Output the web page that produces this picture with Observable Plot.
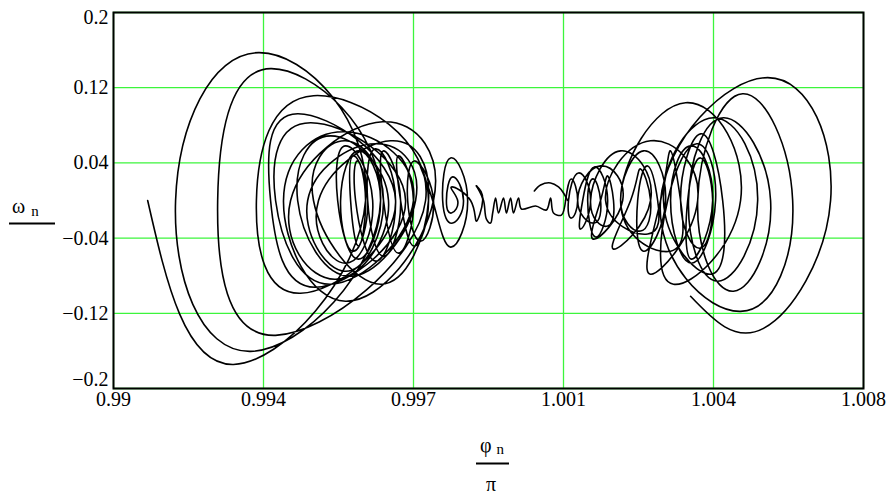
<!DOCTYPE html>
<html><head><meta charset="utf-8">
<script src="https://cdn.jsdelivr.net/npm/d3@7"></script>
<script src="https://cdn.jsdelivr.net/npm/@observablehq/plot@0.6"></script>
<style>
body{margin:0;background:#fff}
#chart{position:relative;width:894px;height:497px}
</style>
</head><body><div id="chart"></div>
<script>
// Axis ticks (phi/pi and omega) and their printed labels
const xTicks = [0.99, 0.9936, 0.9972, 1.0008, 1.0044, 1.008];
const xTickLabels = ["0.99", "0.994", "0.997", "1.001", "1.004", "1.008"];
const yTicks = [0.2, 0.12, 0.04, -0.04, -0.12, -0.2];
const yTickLabels = ["0.2", "0.12", "0.04", "\u22120.04", "\u22120.12", "\u22120.2"];

// Left cluster of loops (outer -> inner): left crossing, bottom, right crossing, top
const leftL = [0.99082, 0.99149, 0.9925, 0.99343, 0.99377, 0.99389, 0.99408, 0.99425, 0.99442, 0.99466, 0.9948, 0.99492, 0.99538, 0.99545, 0.99569, 0.99581, 0.9961, 0.99648, 0.99689, 0.99706, 0.99766, 0.9979, 0.99799, 0.99857];
const leftBottomPhi = [0.99288, 0.99329, 0.99389, 0.99449, 0.99485, 0.99521, 0.99557, 0.99533, 0.99569, 0.99557, 0.99641, 0.99557, 0.99588, 0.99576, 0.99588, 0.99629, 0.99648, 0.99684, 0.99722, 0.99737, 0.99809, 0.99814, 0.99811, 0.99871];
const leftBottom = [-0.1744, -0.1605, -0.1435, -0.0987, -0.0923, -0.0891, -0.1072, -0.0837, -0.0805, -0.0752, -0.0891, -0.0667, -0.0624, -0.0539, -0.0485, -0.0645, -0.0592, -0.056, -0.0485, -0.0432, -0.0496, -0.024, -0.0133, -0.0219];
const leftR = [0.99605, 0.99641, 0.99749, 0.99677, 0.99701, 0.9972, 0.99768, 0.9966, 0.99725, 0.99648, 0.99756, 0.99622, 0.99641, 0.9961, 0.99605, 0.99677, 0.99689, 0.9972, 0.99756, 0.99768, 0.9985, 0.9984, 0.99826, 0.99886];
const leftTopPhi = [0.99348, 0.99377, 0.9948, 0.99442, 0.99473, 0.99557, 0.99646, 0.99521, 0.99629, 0.99557, 0.99665, 0.99557, 0.99588, 0.99576, 0.99586, 0.99629, 0.99648, 0.99684, 0.99722, 0.99737, 0.99809, 0.99814, 0.99811, 0.99871];
const leftTop = [0.1573, 0.1403, 0.1115, 0.0923, 0.0827, 0.0731, 0.0837, 0.0688, 0.0603, 0.0635, 0.0635, 0.0581, 0.0528, 0.0475, 0.0421, 0.0549, 0.0528, 0.0475, 0.0421, 0.0368, 0.0453, 0.0251, 0.0144, 0.0155];

// Middle wiggles and the short hump above them
const midPhi = [0.99871, 0.99888, 0.99895, 0.99905, 0.9991, 0.99917, 0.99924, 0.99936, 0.99943, 0.99953, 0.9996, 0.99972, 0.99979, 1.00013, 1.00039, 1.00049, 1.00056, 1.00075, 1.00085];
const midOmega = [0.0155, 0, -0.0197, -0.024, -0.0133, 0.0027, -0.0133, 0.0027, -0.0133, 0.0027, -0.0133, 0.0027, -0.0091, -0.0059, -0.0101, 0.0027, -0.0133, -0.0155, 0];
const humpPhi = [1.0001, 1.00025, 1.00049, 1.00068, 1.0008, 1.0009];
const humpOmega = [0.0101, 0.0165, 0.0187, 0.0144, 0.008, 0];

// Right cluster of loops (inner -> outer): left crossing, top, right crossing, bottom
const rightL = [1.00085, 1.00092, 1.00126, 1.00138, 1.00114, 1.00169, 1.00145, 1.00241, 1.00217, 1.00258, 1.00181, 1.00313, 1.00217, 1.0033, 1.00337, 1.00378, 1.00361, 1.0032, 1.0038, 1.00402, 1.00313];
const rightTopPhi = [1.00099, 1.00116, 1.00154, 1.00152, 1.00169, 1.00186, 1.00217, 1.00265, 1.00272, 1.00282, 1.00289, 1.00337, 1.00373, 1.00402, 1.00387, 1.00409, 1.00409, 1.0044, 1.00464, 1.0051, 1.0057];
const rightTop = [0.0229, 0.0293, 0.0357, 0.0229, 0.0368, 0.0261, 0.0528, 0.0336, 0.0528, 0.0368, 0.0635, 0.0528, 0.104, 0.0603, 0.0581, 0.0453, 0.0709, 0.088, 0.088, 0.1136, 0.1307];
const rightR = [1.00114, 1.00145, 1.00186, 1.00169, 1.00222, 1.002, 1.00289, 1.00289, 1.00325, 1.00306, 1.00402, 1.00361, 1.00505, 1.00445, 1.00438, 1.00438, 1.00462, 1.00546, 1.00577, 1.0063, 1.00721];
const rightBottomPhi = [1.00099, 1.00121, 1.00157, 1.00154, 1.00152, 1.00186, 1.002, 1.00265, 1.00272, 1.00282, 1.00289, 1.00337, 1.00344, 1.00387, 1.00387, 1.00409, 1.00433, 1.0045, 1.00488, 1.00505, 1.0056];
const rightBottom = [-0.0187, -0.0304, -0.0389, -0.024, -0.0411, -0.0272, -0.0517, -0.0325, -0.0539, -0.0357, -0.0784, -0.0539, -0.0891, -0.0667, -0.0624, -0.0507, -0.0784, -0.0859, -0.0965, -0.1179, -0.136];
const rightEndPhi = [1.00385];
const rightEndOmega = [-0.1019];

// Build the point tables
const smooth = [];
leftL.forEach((l, i) => {
  smooth.push({phi: l, omega: 0, s: "L"});
  smooth.push({phi: leftBottomPhi[i], omega: leftBottom[i], s: "L"});
  smooth.push({phi: leftR[i], omega: 0, s: "L"});
  smooth.push({phi: leftTopPhi[i], omega: leftTop[i], s: "L"});
});
rightL.forEach((l, i) => {
  smooth.push({phi: l, omega: 0, s: "R"});
  smooth.push({phi: rightTopPhi[i], omega: rightTop[i], s: "R"});
  smooth.push({phi: rightR[i], omega: 0, s: "R"});
  smooth.push({phi: rightBottomPhi[i], omega: rightBottom[i], s: "R"});
});
rightEndPhi.forEach((p, i) => smooth.push({phi: p, omega: rightEndOmega[i], s: "R"}));

const rough = [];
midPhi.forEach((p, i) => rough.push({phi: p, omega: midOmega[i], s: "M"}));
humpPhi.forEach((p, i) => rough.push({phi: p, omega: humpOmega[i], s: "H"}));

const xFmt = new Map(xTicks.map((t, i) => [t, xTickLabels[i]]));
const yFmt = new Map(yTicks.map((t, i) => [t, yTickLabels[i]]));
const serif = "'Liberation Serif', 'Times New Roman', serif";
const gridColor = "#3cf53c";
const yAxisOpts = (dy) => ({tickSize: 0, tickPadding: 5, tickFormat: d => yFmt.get(d), fontSize: 20, fontFamily: serif, label: null, dy});

const plot = Plot.plot({
  width: 894, height: 497,
  marginLeft: 113, marginRight: 31, marginTop: 12, marginBottom: 109,
  style: {fontFamily: serif, fontSize: "20px", color: "#000", background: "#fff", overflow: "visible"},
  x: {domain: [0.99, 1.008], label: null, axis: null},
  y: {domain: [-0.2, 0.2], label: null, axis: null},
  marks: [
    Plot.gridX(xTicks, {stroke: gridColor, strokeOpacity: 1, strokeWidth: 1.3}),
    Plot.gridY(yTicks, {stroke: gridColor, strokeOpacity: 1, strokeWidth: 1.3}),
    Plot.line(smooth, {x: "phi", y: "omega", z: "s", curve: "natural", stroke: "#000", strokeWidth: 1.6}),
    Plot.line(rough, {x: "phi", y: "omega", z: "s", curve: "catmull-rom", stroke: "#000", strokeWidth: 1.6}),
    Plot.frame({stroke: "#000", strokeWidth: 2}),
    Plot.axisX(xTicks, {tickSize: 0, tickPadding: 3, tickFormat: d => xFmt.get(d), fontSize: 20, fontFamily: serif, label: null}),
    Plot.axisY(yTicks.slice(0, 1), yAxisOpts(5)),
    Plot.axisY(yTicks.slice(1, 5), yAxisOpts(0)),
    Plot.axisY(yTicks.slice(5), yAxisOpts(-9))
  ]
});
document.getElementById("chart").appendChild(plot);

// Fraction-style axis titles
const svg = d3.select(plot);
const g = svg.append("g").attr("font-family", serif).attr("fill", "#000").attr("text-anchor", "start");
const yt = g.append("text").attr("x", 12).attr("y", 213).attr("font-size", 20).text("\u03C9");
yt.append("tspan").attr("dx", 6).attr("dy", 3).attr("font-size", 15).text("n");
g.append("line").attr("x1", 9).attr("x2", 55).attr("y1", 223.5).attr("y2", 223.5).attr("stroke", "#000").attr("stroke-width", 2);
const xt = g.append("text").attr("x", 480).attr("y", 452).attr("font-size", 20).text("\u03C6");
xt.append("tspan").attr("dx", 5).attr("dy", 2).attr("font-size", 15).text("n");
g.append("line").attr("x1", 476).attr("x2", 509).attr("y1", 463.5).attr("y2", 463.5).attr("stroke", "#000").attr("stroke-width", 2);
g.append("text").attr("x", 486).attr("y", 491).attr("font-size", 20).text("\u03C0");
</script>
</body></html>
